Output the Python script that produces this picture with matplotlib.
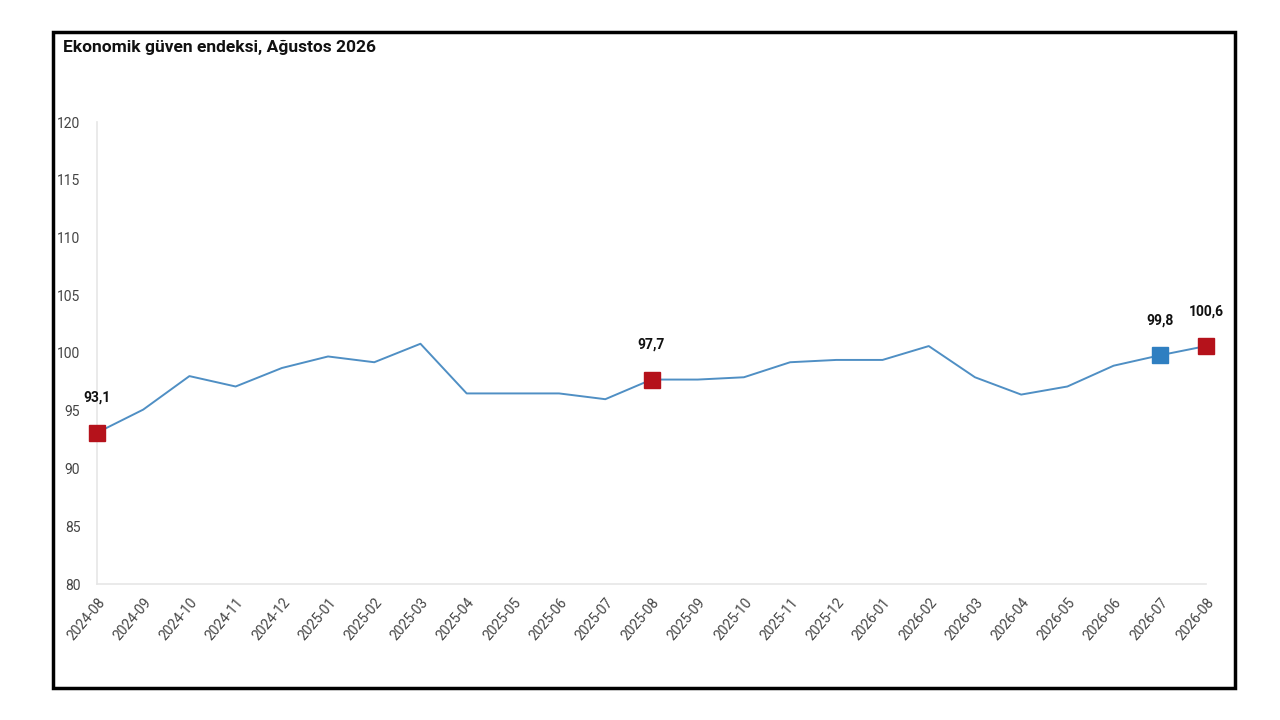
import matplotlib
matplotlib.use("Agg")
import matplotlib.pyplot as plt
from matplotlib.patches import Rectangle
from matplotlib import font_manager

months = [
    "2024-08", "2024-09", "2024-10", "2024-11", "2024-12",
    "2025-01", "2025-02", "2025-03", "2025-04", "2025-05", "2025-06",
    "2025-07", "2025-08", "2025-09", "2025-10", "2025-11", "2025-12",
    "2026-01", "2026-02", "2026-03", "2026-04", "2026-05", "2026-06",
    "2026-07", "2026-08",
]
index_values = [
    93.1, 95.1, 98.0, 97.1, 98.7,
    99.7, 99.2, 100.8, 96.5, 96.5, 96.5,
    96.0, 97.7, 97.7, 97.9, 99.2, 99.4,
    99.4, 100.6, 97.9, 96.4, 97.1, 98.9,
    99.8, 100.6,
]
# highlighted points (month index)
red_points = [0, 12, 24]
blue_points = [23]
y_ticks = [80, 85, 90, 95, 100, 105, 110, 115, 120]

names = {f.name for f in font_manager.fontManager.ttflist}
narrow = "Liberation Sans Narrow" if "Liberation Sans Narrow" in names else "Roboto"
plt.rcParams['font.family'] = [narrow, 'DejaVu Sans']

line_color = "#4f8fc4"
red = "#b5121b"
blue = "#2f7fc1"

fig = plt.figure(figsize=(12.8, 7.2), dpi=100)
fig.patch.set_facecolor("white")

# black frame around the chart
fig.patches.append(Rectangle((53 / 1280, 1 - 688 / 720), (1235 - 53) / 1280, (688 - 32) / 720,
                             transform=fig.transFigure, fill=False, edgecolor="black",
                             linewidth=2.5, zorder=0))

fig.text(63 / 1280, 1 - 47 / 720, "Ekonomik güven endeksi, Ağustos 2026",
         fontsize=12.5, fontweight="bold", color="#111111", va="center", ha="left")

ax = fig.add_axes([97 / 1280, 1 - 584 / 720, (1206 - 97) / 1280, (584 - 122) / 720])
x = list(range(len(months)))
ax.plot(x, index_values, color=line_color, linewidth=1.4, zorder=2)

for i in red_points:
    ax.plot(x[i], index_values[i], marker="s", markersize=11, color=red, zorder=3, clip_on=False)
for i in blue_points:
    ax.plot(x[i], index_values[i], marker="s", markersize=11, color=blue, zorder=3, clip_on=False)
for i in red_points + blue_points:
    ax.annotate(f"{index_values[i]:.1f}".replace(".", ","), (x[i], index_values[i]),
                xytext=(0, 35), textcoords="offset pixels", ha="center", va="center",
                fontsize=10, fontweight="bold", color="#111111")

ax.set_xlim(0, len(months) - 1)
ax.set_ylim(80, 120)
ax.set_yticks(y_ticks)
ax.set_xticks(x)
ax.set_xticklabels(months, rotation=50, ha="right", rotation_mode="anchor")
ax.tick_params(axis="both", length=0, labelsize=10, labelcolor="#444444")
ax.tick_params(axis="y", pad=12)
ax.tick_params(axis="x", pad=8)
for side in ("top", "right"):
    ax.spines[side].set_visible(False)
for side in ("left", "bottom"):
    ax.spines[side].set_color("#e6e6e6")
    ax.spines[side].set_linewidth(1.2)

fig.savefig("out.png", dpi=100)
